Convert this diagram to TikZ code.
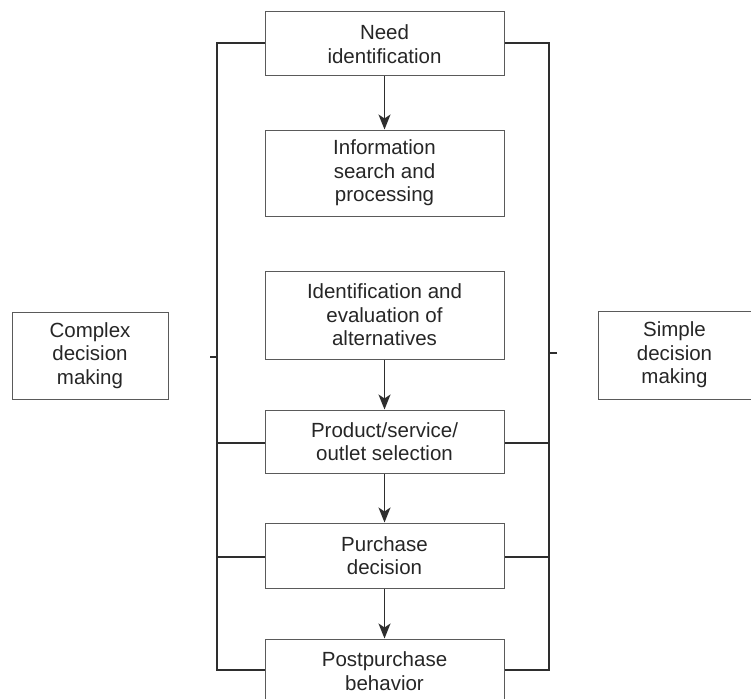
\documentclass[tikz,border=0pt]{standalone}
\usepackage{fontspec}
\setmainfont{Liberation Sans}
\usetikzlibrary{arrows.meta}
\definecolor{boxline}{HTML}{5A5A5A}
\definecolor{wire}{HTML}{2E2E2E}
\begin{document}
\begin{tikzpicture}[x=1pt,y=-1pt,
  stage/.style={draw=boxline,line width=1pt,inner sep=0pt,align=center,
    font=\fontsize{20.5}{23.5}\selectfont,text=black!85},
  flow/.style={draw=wire,line width=1.5pt,-{Stealth[length=15pt,width=12pt,inset=4pt]}},
  loop/.style={draw=wire,line width=1.5pt},
  tick/.style={draw=wire,line width=1.2pt}]
\useasboundingbox (0,0) rectangle (751,698);

% main stages
\node[stage,minimum width=239pt,minimum height=64pt] (need) at (384.5,44) {Need\\identification};
\node[stage,minimum width=239pt,minimum height=86pt] (info) at (384.5,173) {Information\\search and\\processing};
\node[stage,minimum width=239pt,minimum height=88pt] (alt) at (384.5,315) {Identification and\\evaluation of\\alternatives};
\node[stage,minimum width=239pt,minimum height=63pt] (sel) at (384.5,441.5) {Product/service/\\outlet selection};
\node[stage,minimum width=239pt,minimum height=65pt] (buy) at (384.5,555.5) {Purchase\\decision};
\node[stage,minimum width=239pt,minimum height=64pt] (post) at (384.5,671) {Postpurchase\\behavior};

% side labels
\node[stage,minimum width=156pt,minimum height=87pt] (complex) at (90,355.5) {Complex\\decision\\making};
\node[stage,minimum width=153pt,minimum height=88pt] (simple) at (674.5,355) {Simple\\decision\\making};

% downward flow
\draw[flow] (need.south) -- (info.north);
\draw[flow] (alt.south) -- (sel.north);
\draw[flow] (sel.south) -- (buy.north);
\draw[flow] (buy.south) -- (post.north);

% return loops on both sides
\coordinate (lt) at (217,43);
\coordinate (lb) at (217,670);
\coordinate (rt) at (549,43);
\coordinate (rb) at (549,670);
\draw[loop] (need.west |- lt) -- (lt) -- (lb) -- (post.west |- lb);
\draw[loop] (need.east |- rt) -- (rt) -- (rb) -- (post.east |- rb);
\draw[loop] (217,443) coordinate (ls) -- (sel.west |- ls);
\draw[loop] (217,557) coordinate (lp) -- (buy.west |- lp);
\draw[loop] (549,443) coordinate (rs) -- (sel.east |- rs);
\draw[loop] (549,557) coordinate (rp) -- (buy.east |- rp);

% short ticks toward the side labels
\coordinate (lk) at (210,357);
\coordinate (rk) at (557,353);
\draw[tick] (lk) -- (lk -| lt);
\draw[tick] (rk) -- (rk -| rt);
\end{tikzpicture}
\end{document}
